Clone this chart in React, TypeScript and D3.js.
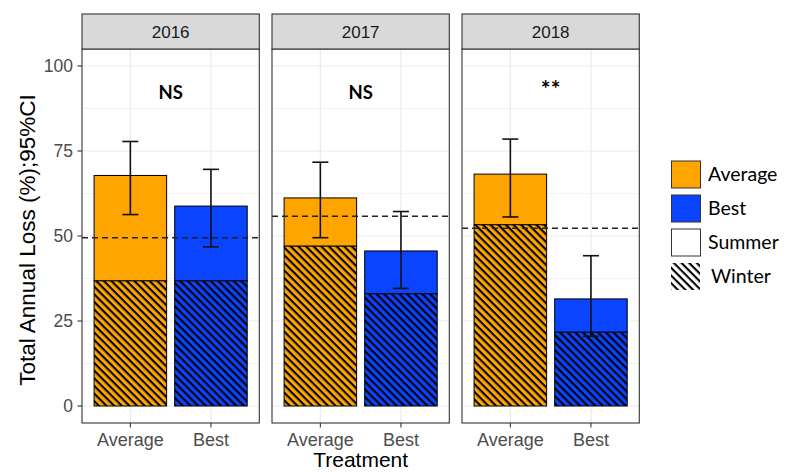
import React from 'react';
import * as d3 from 'd3';

const years = ['2016', '2017', '2018'];
const treatments = ['Average', 'Best'];
const totalAvg = [67.8, 61.2, 68.2];
const winterAvg = [36.8, 47.0, 53.3];
const totalBest = [58.8, 45.6, 31.5];
const winterBest = [36.8, 33.0, 21.7];
const ciLowAvg = [56.3, 49.5, 55.6];
const ciHighAvg = [77.8, 71.7, 78.5];
const ciLowBest = [46.8, 34.6, 20.5];
const ciHighBest = [69.6, 57.2, 44.2];
const overallMean = [49.5, 55.8, 52.3];
const signif = ['NS', 'NS', '**'];
const yTicks = [0, 25, 50, 75, 100];
const yMinor = [12.5, 37.5, 62.5, 87.5];
const legendLabels = ['Average', 'Best', 'Summer', 'Winter'];

const colors: Record<string, string> = { Average: '#FFA500', Best: '#0A44FF' };

const W = 786, H = 472;
const panelLefts = [82, 272, 462];
const panelW = 177.3;
const stripTop = 14, stripBottom = 49, panelBottom = 423;

export default function App() {
  const y = d3.scaleLinear().domain([-5, 105]).range([panelBottom, stripBottom]);
  const axisFont = '"Liberation Sans", Arial, sans-serif';
  const annFont = 'Lato, "Open Sans", sans-serif';

  return (
    <svg width={W} height={H} style={{ position: 'absolute', left: 0, top: 0, background: '#fff' }}>
      <defs>
        <pattern id="hatch" patternUnits="userSpaceOnUse" width={5.4} height={5.4} patternTransform="rotate(45)">
          <rect x={0} y={0} width={5.4} height={2.1} fill="#000" />
        </pattern>
      </defs>
      <rect x={0} y={0} width={W} height={H} fill="#fff" />
      {years.map((yr, i) => {
        const left = panelLefts[i];
        const x = d3.scaleLinear().domain([0.4, 2.6]).range([left, left + panelW]);
        const bw = 0.9 * (x(1) - x(0));
        const bars = [
          { t: 'Average', pos: 1, total: totalAvg[i], winter: winterAvg[i], lo: ciLowAvg[i], hi: ciHighAvg[i] },
          { t: 'Best', pos: 2, total: totalBest[i], winter: winterBest[i], lo: ciLowBest[i], hi: ciHighBest[i] },
        ];
        return (
          <g key={yr}>
            {yMinor.map((v) => (
              <line key={'mn' + v} x1={left} x2={left + panelW} y1={y(v)} y2={y(v)} stroke="#ebebeb" strokeWidth={0.6} />
            ))}
            {yTicks.map((v) => (
              <line key={'mj' + v} x1={left} x2={left + panelW} y1={y(v)} y2={y(v)} stroke="#ebebeb" strokeWidth={1.2} />
            ))}
            {treatments.map((t, k) => (
              <line key={'vx' + t} x1={x(k + 1)} x2={x(k + 1)} y1={stripBottom} y2={panelBottom} stroke="#ebebeb" strokeWidth={1.2} />
            ))}
            {bars.map((b) => (
              <g key={b.t}>
                <rect x={x(b.pos) - bw / 2} y={y(b.total)} width={bw} height={y(b.winter) - y(b.total)} fill={colors[b.t]} stroke="#000" strokeWidth={1} />
                <rect x={x(b.pos) - bw / 2} y={y(b.winter)} width={bw} height={y(0) - y(b.winter)} fill={colors[b.t]} stroke="none" />
                <rect x={x(b.pos) - bw / 2} y={y(b.winter)} width={bw} height={y(0) - y(b.winter)} fill="url(#hatch)" stroke="#000" strokeWidth={1} />
              </g>
            ))}
            <line x1={left} x2={left + panelW} y1={y(overallMean[i])} y2={y(overallMean[i])} stroke="#222" strokeWidth={1.4} strokeDasharray="6,4" />
            {bars.map((b) => (
              <g key={'e' + b.t} stroke="#111" strokeWidth={1.6}>
                <line x1={x(b.pos)} x2={x(b.pos)} y1={y(b.hi)} y2={y(b.lo)} />
                <line x1={x(b.pos) - 8} x2={x(b.pos) + 8} y1={y(b.hi)} y2={y(b.hi)} />
                <line x1={x(b.pos) - 8} x2={x(b.pos) + 8} y1={y(b.lo)} y2={y(b.lo)} />
              </g>
            ))}
            <text x={x(1.5)} y={y(signif[i] === '**' ? 90.8 : 90.3)} textAnchor="middle" fontFamily={annFont} fontWeight={700}
              fontSize={signif[i] === '**' ? 23 : 18.5} fill="#000">{signif[i]}</text>
            <rect x={left} y={stripBottom} width={panelW} height={panelBottom - stripBottom} fill="none" stroke="#333" strokeWidth={1.1} />
            <rect x={left} y={stripTop} width={panelW} height={stripBottom - stripTop} fill="#d9d9d9" stroke="#333" strokeWidth={1.1} />
            <text x={left + panelW / 2} y={(stripTop + stripBottom) / 2 + 6} textAnchor="middle" fontFamily={axisFont} fontSize={17} fill="#1a1a1a">{yr}</text>
            {treatments.map((t, k) => (
              <g key={'xt' + t}>
                <line x1={x(k + 1)} x2={x(k + 1)} y1={panelBottom} y2={panelBottom + 4.5} stroke="#333" strokeWidth={1.1} />
                <text x={x(k + 1)} y={446} textAnchor="middle" fontFamily={axisFont} fontSize={18} fill="#4d4d4d">{t}</text>
              </g>
            ))}
          </g>
        );
      })}
      {yTicks.map((v) => (
        <g key={'yt' + v}>
          <line x1={panelLefts[0] - 4.5} x2={panelLefts[0]} y1={y(v)} y2={y(v)} stroke="#333" strokeWidth={1.1} />
          <text x={73} y={y(v) + 6} textAnchor="end" fontFamily={axisFont} fontSize={17.5} fill="#4d4d4d">{v}</text>
        </g>
      ))}
      <text transform={`translate(35, 240) rotate(-90)`} textAnchor="middle" fontFamily={axisFont} fontSize={22.5} fill="#000">Total Annual Loss (%);95%CI</text>
      <text x={(panelLefts[0] + panelLefts[2] + panelW) / 2} y={466.5} textAnchor="middle" fontFamily={axisFont} fontSize={21} fill="#000">Treatment</text>
      {legendLabels.map((lab, k) => {
        const ky = 161 + k * 34;
        return (
          <g key={'lg' + lab}>
            {lab === 'Winter' ? (
              <rect x={671} y={ky} width={29} height={27} fill="url(#hatch)" />
            ) : (
              <rect x={671.5} y={ky} width={29} height={27} fill={lab === 'Summer' ? '#fff' : colors[lab]} stroke="#333" strokeWidth={1} />
            )}
            <text x={lab === 'Winter' ? 711 : 708} y={ky + 20} fontFamily={annFont} fontSize={19.5} fill="#000">{lab}</text>
          </g>
        );
      })}
    </svg>
  );
}
